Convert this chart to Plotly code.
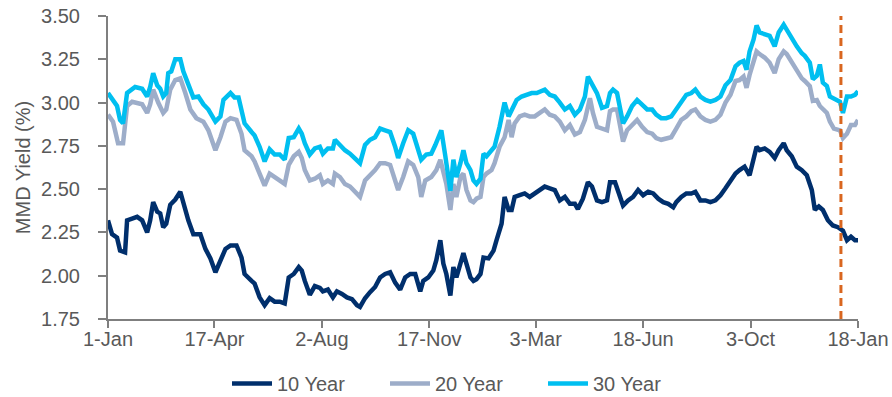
import pandas as pd
import plotly.graph_objects as go

START = "2022-01-01"
tick_dates = ["2022-01-01", "2022-04-17", "2022-08-02", "2022-11-17",
              "2023-03-03", "2023-06-18", "2023-10-03", "2024-01-18"]
tick_labels = ["1-Jan", "17-Apr", "2-Aug", "17-Nov", "3-Mar", "18-Jun", "3-Oct", "18-Jan"]
marker_date = "2024-01-01"

# day offsets from START and yields (%)
y30_days = [0, 4, 9, 12, 15, 19, 24, 27, 34, 39, 42, 45, 49, 52, 55, 58, 60, 63, 67, 72, 75, 80, 85, 90, 95,
            100, 107, 112, 115, 122, 126, 130, 133, 136, 143, 146, 151, 156, 161, 166, 171, 176, 180, 185, 190,
            193, 196, 201, 206, 211, 214, 219, 224, 226, 231, 236, 241, 246, 251, 256, 261, 266, 271, 276, 281,
            286, 289, 294, 299, 304, 309, 312, 317, 322, 326, 329, 332, 336, 339, 341, 344, 347, 351, 354, 357,
            361, 364, 367, 371, 374, 377, 382, 385, 390, 395, 399, 402, 407, 412, 417, 422, 427, 432, 435, 440,
            445, 450, 455, 460, 465, 470, 475, 478, 482, 487, 492, 497, 500, 503, 507, 510, 513, 517, 522, 527,
            532, 537, 542, 546, 551, 556, 561, 566, 571, 576, 581, 585, 590, 595, 600, 605, 610, 615, 620, 625,
            629, 633, 636, 639, 643, 646, 649, 654, 659, 664, 668, 673, 676, 681, 686, 691, 694, 699, 702, 706,
            709, 712, 716, 719, 723, 729, 732, 736, 740, 744, 747]
y30_vals = [3.055, 3.02, 2.98, 2.90, 2.88, 3.055, 3.08, 3.09, 3.08, 3.035, 3.09, 3.17, 3.10, 3.08, 3.035, 3.055,
            3.17, 3.18, 3.25, 3.25, 3.18, 3.10, 3.03, 3.035, 2.99, 2.96, 2.89, 2.92, 3.015, 3.055, 3.03, 3.03,
            2.96, 2.88, 2.83, 2.81, 2.745, 2.66, 2.73, 2.70, 2.70, 2.67, 2.795, 2.80, 2.85, 2.82, 2.765, 2.70,
            2.735, 2.745, 2.705, 2.735, 2.735, 2.785, 2.755, 2.725, 2.705, 2.68, 2.65, 2.755, 2.785, 2.80, 2.85,
            2.84, 2.83, 2.745, 2.68, 2.765, 2.84, 2.82, 2.725, 2.67, 2.70, 2.705, 2.755, 2.795, 2.84, 2.69, 2.57,
            2.49, 2.67, 2.57, 2.65, 2.725, 2.65, 2.61, 2.55, 2.53, 2.56, 2.705, 2.69, 2.725, 2.745, 2.86, 3.00,
            2.92, 2.96, 3.015, 3.035, 3.045, 3.055, 3.055, 3.065, 3.075, 3.045, 3.035, 3.00, 2.96, 2.98, 2.93,
            2.96, 3.035, 3.15, 3.11, 3.055, 2.97, 2.98, 3.055, 3.075, 3.055, 2.96, 2.88, 2.92, 2.98, 3.015, 2.99,
            2.96, 2.96, 2.93, 2.91, 2.91, 2.92, 2.96, 3.005, 3.045, 3.055, 3.075, 3.035, 3.015, 3.005, 3.015,
            3.035, 3.10, 3.13, 3.21, 3.23, 3.24, 3.19, 3.295, 3.365, 3.445, 3.405, 3.395, 3.385, 3.325, 3.405,
            3.45, 3.42, 3.365, 3.325, 3.285, 3.27, 3.23, 3.135, 3.155, 3.22, 3.115, 3.095, 3.035, 3.025, 3.005,
            2.94, 3.035, 3.035, 3.045, 3.065]

y20_days = [0, 5, 10, 15, 19, 24, 34, 39, 42, 45, 50, 55, 58, 62, 67, 72, 77, 82, 88, 95, 100, 107, 112, 117,
            122, 128, 133, 136, 143, 146, 151, 156, 161, 166, 171, 176, 180, 185, 190, 193, 196, 201, 206, 211,
            214, 219, 224, 226, 231, 236, 241, 246, 251, 256, 261, 266, 271, 276, 281, 286, 289, 294, 299, 304,
            309, 312, 316, 322, 327, 331, 334, 337, 341, 344, 347, 351, 354, 357, 361, 364, 367, 371, 374, 377,
            382, 385, 390, 395, 399, 402, 405, 410, 415, 420, 425, 430, 435, 440, 445, 450, 455, 460, 465, 470,
            475, 480, 483, 487, 492, 497, 500, 503, 507, 510, 513, 517, 522, 527, 532, 537, 542, 546, 551, 556,
            561, 566, 571, 576, 581, 585, 590, 595, 600, 605, 610, 615, 620, 625, 629, 633, 636, 639, 643, 646,
            649, 654, 659, 664, 668, 673, 676, 681, 686, 691, 694, 699, 702, 706, 709, 712, 716, 719, 723, 729,
            732, 736, 740, 744, 747]
y20_vals = [2.93, 2.89, 2.765, 2.765, 2.98, 3.005, 2.99, 2.94, 2.99, 3.075, 3.00, 2.94, 2.96, 3.075, 3.13, 3.14,
            3.055, 2.96, 2.91, 2.89, 2.84, 2.725, 2.80, 2.89, 2.91, 2.90, 2.82, 2.725, 2.69, 2.66, 2.59, 2.52,
            2.59, 2.57, 2.55, 2.53, 2.64, 2.69, 2.715, 2.68, 2.61, 2.55, 2.56, 2.58, 2.53, 2.55, 2.53, 2.59, 2.57,
            2.53, 2.515, 2.485, 2.455, 2.55, 2.58, 2.61, 2.65, 2.65, 2.64, 2.56, 2.495, 2.57, 2.66, 2.64, 2.57,
            2.455, 2.55, 2.57, 2.61, 2.67, 2.61, 2.53, 2.38, 2.53, 2.455, 2.57, 2.59, 2.495, 2.435, 2.425, 2.445,
            2.455, 2.57, 2.59, 2.61, 2.65, 2.745, 2.80, 2.90, 2.80, 2.88, 2.92, 2.93, 2.92, 2.92, 2.94, 2.96,
            2.93, 2.92, 2.89, 2.84, 2.87, 2.815, 2.83, 2.90, 3.025, 2.94, 2.86, 2.85, 2.84, 2.95, 2.96, 2.96,
            2.86, 2.775, 2.84, 2.87, 2.90, 2.86, 2.83, 2.82, 2.795, 2.785, 2.795, 2.80, 2.85, 2.90, 2.92, 2.95,
            2.96, 2.92, 2.90, 2.89, 2.90, 2.93, 3.00, 3.045, 3.125, 3.13, 3.15, 3.085, 3.16, 3.25, 3.295, 3.28,
            3.26, 3.23, 3.17, 3.25, 3.295, 3.28, 3.23, 3.18, 3.14, 3.125, 3.095, 3.01, 3.015, 2.98, 2.96, 2.94,
            2.89, 2.85, 2.84, 2.795, 2.82, 2.87, 2.87, 2.90]

y10_days = [0, 4, 9, 12, 17, 19, 24, 29, 34, 39, 42, 45, 49, 52, 55, 58, 62, 67, 72, 75, 80, 85, 92, 97, 102,
            107, 112, 117, 122, 128, 133, 136, 143, 146, 151, 156, 161, 166, 171, 176, 180, 185, 190, 193, 196,
            201, 206, 211, 214, 219, 224, 228, 233, 238, 243, 248, 251, 256, 261, 266, 271, 276, 281, 286, 291,
            296, 301, 306, 311, 314, 319, 324, 327, 331, 334, 337, 341, 344, 347, 351, 354, 357, 361, 364, 367,
            371, 374, 379, 384, 387, 392, 395, 399, 402, 405, 410, 415, 420, 425, 430, 435, 440, 445, 450, 455,
            460, 465, 468, 473, 478, 482, 487, 492, 497, 500, 505, 510, 513, 518, 523, 528, 533, 538, 543, 548,
            553, 558, 563, 566, 571, 576, 581, 585, 590, 595, 600, 605, 610, 615, 620, 625, 629, 634, 639, 643,
            646, 649, 654, 659, 664, 668, 673, 676, 681, 686, 691, 696, 701, 704, 708, 712, 717, 722, 727, 732,
            736, 740, 744, 747]
y10_vals = [2.32, 2.24, 2.22, 2.145, 2.135, 2.32, 2.33, 2.34, 2.32, 2.25, 2.32, 2.425, 2.37, 2.36, 2.28, 2.30,
            2.41, 2.44, 2.485, 2.42, 2.32, 2.24, 2.24, 2.155, 2.10, 2.02, 2.09, 2.155, 2.175, 2.175, 2.105, 2.01,
            1.97, 1.955, 1.875, 1.83, 1.87, 1.85, 1.85, 1.84, 1.99, 2.01, 2.05, 2.03, 1.97, 1.89, 1.94, 1.93,
            1.91, 1.92, 1.875, 1.91, 1.895, 1.875, 1.865, 1.83, 1.82, 1.87, 1.905, 1.935, 1.99, 2.01, 2.02, 1.96,
            1.92, 1.99, 2.01, 2.01, 1.91, 1.97, 1.99, 2.03, 2.09, 2.205, 2.07, 2.01, 1.885, 2.05, 1.99, 2.07,
            2.13, 2.07, 1.99, 1.97, 1.98, 2.01, 2.105, 2.10, 2.145, 2.205, 2.30, 2.455, 2.38, 2.38, 2.455, 2.465,
            2.475, 2.455, 2.475, 2.495, 2.515, 2.505, 2.495, 2.435, 2.455, 2.415, 2.415, 2.385, 2.445, 2.54,
            2.515, 2.435, 2.425, 2.435, 2.54, 2.54, 2.465, 2.405, 2.435, 2.455, 2.495, 2.465, 2.485, 2.475,
            2.445, 2.425, 2.415, 2.395, 2.425, 2.455, 2.475, 2.475, 2.485, 2.435, 2.435, 2.425, 2.435, 2.465,
            2.505, 2.55, 2.59, 2.61, 2.63, 2.58, 2.69, 2.745, 2.725, 2.735, 2.715, 2.68, 2.725, 2.765, 2.725,
            2.69, 2.63, 2.61, 2.58, 2.495, 2.38, 2.40, 2.38, 2.32, 2.29, 2.28, 2.26, 2.205, 2.225, 2.205, 2.205]

def to_dates(days):
    return pd.Timestamp(START) + pd.to_timedelta(days, unit="D")

FONT = "Liberation Sans, Arial, sans-serif"
TXT = "#595959"
AX = "#7f7f7f"

fig = go.Figure()
fig.add_trace(go.Scatter(x=to_dates(y10_days), y=y10_vals, name="10 Year", mode="lines",
                         line=dict(color="#002F6C", width=4.5)))
fig.add_trace(go.Scatter(x=to_dates(y20_days), y=y20_vals, name="20 Year", mode="lines",
                         line=dict(color="#9DADC9", width=4.5)))
fig.add_trace(go.Scatter(x=to_dates(y30_days), y=y30_vals, name="30 Year", mode="lines",
                         line=dict(color="#00BFF0", width=4.5)))

fig.add_shape(type="line", xref="x", yref="paper", x0=marker_date, x1=marker_date, y0=0, y1=1,
              line=dict(color="#D9661F", width=3, dash="8px,5px"))

fig.update_layout(
    width=892, height=397,
    margin=dict(l=108, r=34, t=16, b=78, autoexpand=False),
    paper_bgcolor="white", plot_bgcolor="white",
    font=dict(family=FONT, size=20, color=TXT),
    showlegend=True,
    legend=dict(orientation="h", xref="container", yref="container",
                x=227 / 892, xanchor="left", y=1 - 364 / 397, yanchor="top",
                font=dict(size=20, color=TXT), entrywidth=103, entrywidthmode="pixels",
                itemwidth=40, tracegroupgap=0),
)
fig.update_xaxes(
    type="date", range=[tick_dates[0], tick_dates[-1]],
    tickvals=tick_dates, ticktext=tick_labels, automargin=False,
    showline=True, linecolor=AX, linewidth=2, ticks="outside", ticklen=7, tickcolor=AX, tickwidth=2,
    showgrid=False, zeroline=False, tickfont=dict(size=20, color=TXT), ticklabelstandoff=-6,
)
fig.update_yaxes(
    range=[1.75, 3.50], tickvals=[1.75, 2.0, 2.25, 2.5, 2.75, 3.0, 3.25, 3.5], tickformat=".2f",
    automargin=False,
    showline=True, linecolor=AX, linewidth=2, ticks="outside", ticklen=8, tickcolor=AX, tickwidth=2,
    showgrid=False, zeroline=False, tickfont=dict(size=20, color=TXT), ticklabelstandoff=14,
    title=dict(text="MMD Yield (%)", font=dict(size=20, color=TXT), standoff=5),
)

fig.write_html("out.html")
